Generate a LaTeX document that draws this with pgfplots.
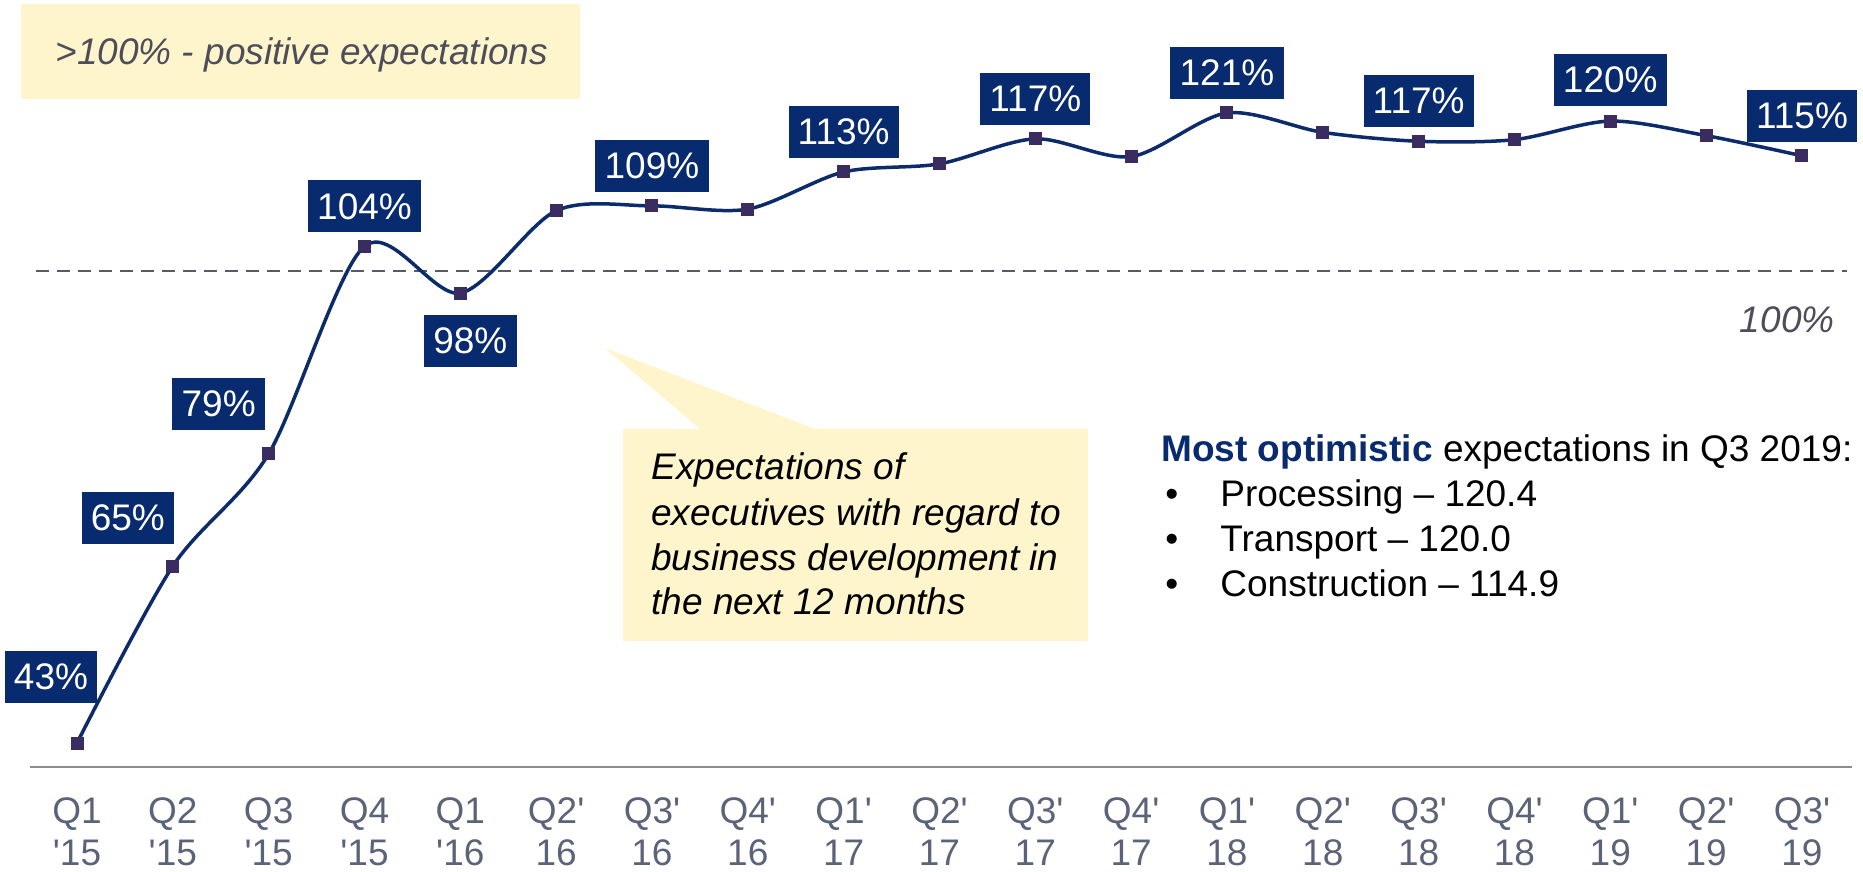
\documentclass[border=0pt]{standalone}
\usepackage{pgfplots}
\pgfplotsset{compat=1.18}
\usepackage{fontspec}
\setmainfont{Liberation Sans}
\definecolor{navy}{RGB}{8,42,110}
\definecolor{linec}{RGB}{12,43,107}
\definecolor{markc}{RGB}{58,44,96}
\definecolor{yel}{RGB}{254,245,204}
\definecolor{graytxt}{RGB}{78,78,90}
\definecolor{ticktxt}{RGB}{90,99,120}
\definecolor{dashc}{RGB}{90,90,102}
\definecolor{axisc}{RGB}{140,140,140}
\newcommand{\fs}{\fontsize{18.5pt}{21pt}\selectfont}
\newcommand{\q}{\textquotesingle}
\tikzset{lbl/.style={fill=navy, text=white, inner xsep=4.6pt, inner ysep=0pt, minimum height=26pt, font=\fs}}
\begin{document}
\begin{tikzpicture}
\useasboundingbox (0,-52.5pt) rectangle (931.5pt,383.5pt);
% top-left note
\fill[yel] (10.5pt,334pt) rectangle (290pt,381.5pt);
\node[anchor=base west, font=\fs\itshape, text=graytxt, inner sep=0pt] at (27.5pt,351pt) {>100\% - positive expectations};
% callout
\fill[yel] (311.5pt,63pt) -- (311.5pt,169pt) -- (350pt,169pt) -- (302.5pt,209.5pt) -- (407.5pt,169pt) -- (544pt,169pt) -- (544pt,63pt) -- cycle;
\begin{scope}[every node/.style={anchor=base west, font=\fs\itshape, text=black, inner sep=0pt}]
\node at (325.5pt,143.5pt) {Expectations of};
\node at (325.5pt,120.5pt) {executives with regard to};
\node at (325.5pt,98pt) {business development in};
\node at (325.5pt,76pt) {the next 12 months};
\end{scope}
% right text
\begin{scope}[every node/.style={anchor=base west, font=\fs, text=black, inner sep=0pt}]
\node at (580.5pt,152.5pt) {\textcolor{navy}{\bfseries Most optimistic} expectations in Q3 2019:};
\node at (582.5pt,130pt) {•};
\node at (582.5pt,107.5pt) {•};
\node at (582.5pt,85pt) {•};
\node at (610pt,130pt) {Processing – 120.4};
\node at (610pt,107.5pt) {Transport – 120.0};
\node at (610pt,85pt) {Construction – 114.9};
\end{scope}
\node[anchor=base east, font=\fs\itshape, text=graytxt, inner sep=0pt] at (917.5pt,217pt) {100\%};
\begin{axis}[
  at={(0,0)}, anchor=south west,
  scale only axis,
  width=931.5pt, height=383.5pt,
  xmin=-0.8035, xmax=18.637,
  ymin=40.03, ymax=134.99,
  clip=false,
  axis line style={draw=none},
  tick style={draw=none},
  major tick length=0pt,
  ytick=\empty,
  xtick={0,...,18},
  xticklabels={Q1\\\q15,Q2\\\q15,Q3\\\q15,Q4\\\q15,Q1\\\q16,Q2\q\\16,Q3\q\\16,Q4\q\\16,Q1\q\\17,Q2\q\\17,Q3\q\\17,Q4\q\\17,Q1\q\\18,Q2\q\\18,Q3\q\\18,Q4\q\\18,Q1\q\\19,Q2\q\\19,Q3\q\\19},
  xticklabel style={align=center, font=\fs, text=ticktxt, anchor=north, inner sep=0pt, yshift=-15pt},
]
\addplot[dashc, line width=1pt, dash pattern=on 6.5pt off 4pt] coordinates {(-0.428,101.4) (18.47,101.4)};
\addplot[axisc, line width=1pt] coordinates {(-0.49,40.03) (18.52,40.03)};
\addplot[linec, line width=1.75pt, smooth, mark=square*, mark size=3pt, mark options={fill=markc, draw=markc, line width=0pt}] coordinates {
(0,43) (1,64.9) (2,78.8) (3,104.5) (4,98.7) (5,108.9) (6,109.5) (7,109.1) (8,113.7) (9,114.7)
(10,117.8) (11,115.6) (12,121) (13,118.6) (14,117.5) (15,117.7) (16,120.0) (17,118.2) (18,115.7)};
\node[lbl, xshift=-13pt, yshift=33pt] at (axis cs:0,43) {43\%};
\node[lbl, xshift=-22.5pt, yshift=24pt] at (axis cs:1,64.9) {65\%};
\node[lbl, xshift=-25pt, yshift=25pt] at (axis cs:2,78.8) {79\%};
\node[lbl, yshift=20pt] at (axis cs:3,104.5) {104\%};
\node[lbl, xshift=5pt, yshift=-24pt] at (axis cs:4,98.7) {98\%};
\node[lbl, yshift=20pt] at (axis cs:6,109.5) {109\%};
\node[lbl, yshift=20pt] at (axis cs:8,113.7) {113\%};
\node[lbl, yshift=20pt] at (axis cs:10,117.8) {117\%};
\node[lbl, yshift=20pt] at (axis cs:12,121) {121\%};
\node[lbl, yshift=20pt] at (axis cs:14,117.5) {117\%};
\node[lbl, yshift=20.5pt] at (axis cs:16,120.0) {120\%};
\node[lbl, yshift=20pt] at (axis cs:18,115.7) {115\%};
\end{axis}
\end{tikzpicture}
\end{document}
